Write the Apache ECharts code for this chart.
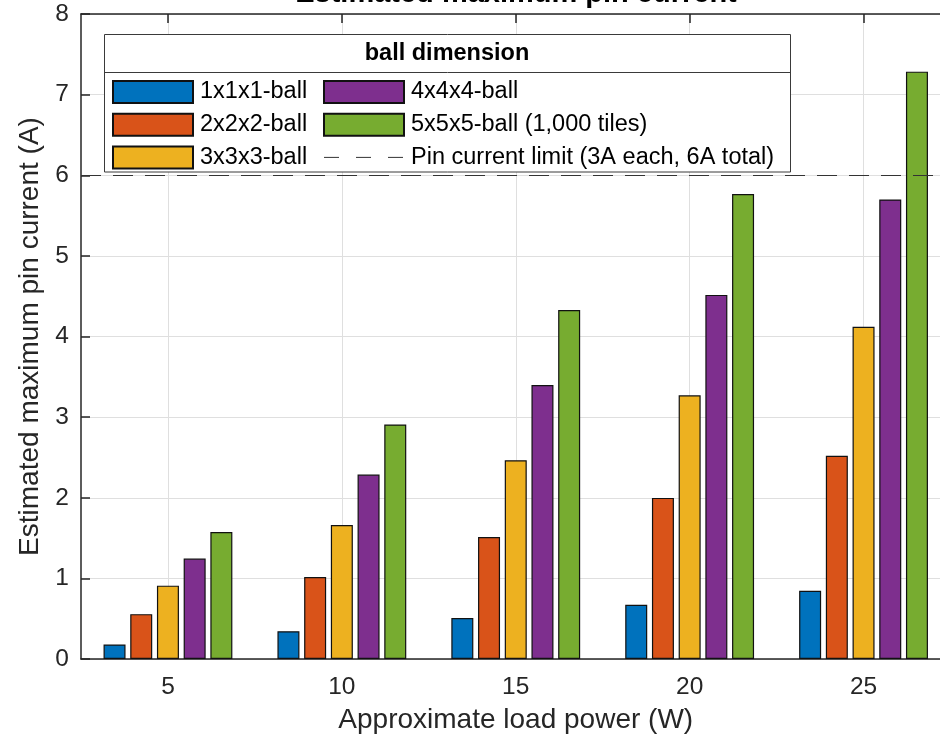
<!DOCTYPE html>
<html><head><meta charset="utf-8">
<script src="https://cdn.jsdelivr.net/npm/echarts@6/dist/echarts.min.js"></script>
<style>html,body{margin:0;padding:0;background:#fff;overflow:hidden}#c{width:940px;height:735px}</style>
</head><body><div id="c"></div>
<script>
const categories = ['5', '10', '15', '20', '25'];
const seriesNames = ['1x1x1-ball', '2x2x2-ball', '3x3x3-ball', '4x4x4-ball', '5x5x5-ball (1,000 tiles)'];
const ball1 = [0.18, 0.345, 0.507, 0.673, 0.847];
const ball2 = [0.556, 1.016, 1.513, 1.998, 2.52];
const ball3 = [0.91, 1.662, 2.466, 3.27, 4.12];
const ball4 = [1.245, 2.288, 3.398, 4.516, 5.70];
const ball5 = [1.575, 2.909, 4.329, 5.767, 7.285];
const pinLimit = 6;
const limitName = 'Pin current limit (3A each, 6A total)';
const yMin = 0, yMax = 8, yStep = 1;
const titleText = 'Estimated maximum pin current';
const legendTitle = 'ball dimension';
const xTitle = 'Approximate load power (W)';
const yTitle = 'Estimated maximum pin current (A)';

const colors = ['#0072BD', '#D95319', '#EDB120', '#7E2F8E', '#77AC30'];
const FONT = '"Liberation Sans", Arial, Helvetica, sans-serif';
const AX = '#262626';
const GRID = '#dfdfdf';
const values = [ball1, ball2, ball3, ball4, ball5];

const chart = echarts.init(document.getElementById('c'), null, {renderer: 'canvas'});

const barSeries = values.map((vals, i) => ({
  name: seriesNames[i],
  type: 'bar',
  data: vals,
  barWidth: 22,
  barGap: '21.4%',
  itemStyle: {color: colors[i], borderColor: '#111', borderWidth: 1.2},
  emphasis: {disabled: true},
  z: 2
}));

const lineSeries = {
  name: limitName,
  type: 'line',
  data: [],
  symbol: 'none',
  itemStyle: {color: 'rgba(0,0,0,0)', borderWidth: 0},
  lineStyle: {color: '#333', width: 1, type: [15, 17]},
  markLine: {
    silent: true,
    symbol: ['none', 'none'],
    label: {show: false},
    lineStyle: {color: '#333', width: 1.2, type: [20, 12]},
    data: [{yAxis: pinLimit}]
  },
  z: 5
};

const legendCommon = {
  orient: 'vertical',
  top: 80,
  padding: 0,
  itemWidth: 80,
  itemHeight: 22,
  itemGap: 8.7,
  selectedMode: false,
  textStyle: {fontFamily: FONT, fontSize: 23.5, color: '#000', lineHeight: 22, padding: [0, 0, 0, 2]},
  z: 6
};

const option = {
  animation: false,
  backgroundColor: '#fff',
  grid: {left: 81, top: 14, width: 869.5, height: 645, containLabel: false, outerBoundsMode: 'none'},
  xAxis: [{
    type: 'category',
    data: categories,
    position: 'bottom',
    axisLine: {show: true, lineStyle: {color: AX, width: 1.5}},
    axisTick: {show: true, inside: true, length: 9, alignWithLabel: true, lineStyle: {color: AX, width: 1.5}},
    axisLabel: {fontFamily: FONT, fontSize: 24.5, color: AX, margin: 16},
    splitLine: {show: true, alignWithLabel: true, lineStyle: {color: GRID, width: 1}},
    name: xTitle,
    nameLocation: 'middle',
    nameGap: 47,
    nameTextStyle: {fontFamily: FONT, fontSize: 28, color: AX}
  }, {
    type: 'category',
    data: categories,
    position: 'top',
    axisLine: {show: true, lineStyle: {color: AX, width: 1.5}},
    axisTick: {show: true, inside: true, length: 9, alignWithLabel: true, lineStyle: {color: AX, width: 1.5}},
    axisLabel: {show: false},
    splitLine: {show: false}
  }],
  yAxis: [{
    type: 'value',
    min: yMin, max: yMax, interval: yStep,
    axisLine: {show: true, lineStyle: {color: AX, width: 1.5}},
    axisTick: {show: true, inside: true, length: 9, lineStyle: {color: AX, width: 1.5}},
    axisLabel: {fontFamily: FONT, fontSize: 24.5, color: AX, margin: 12},
    splitLine: {show: true, lineStyle: {color: GRID, width: 1}},
    name: yTitle,
    nameLocation: 'middle',
    nameGap: 34,
    nameTextStyle: {fontFamily: FONT, fontSize: 28, color: AX}
  }],
  legend: [
    Object.assign({}, legendCommon, {
      left: 112,
      icon: 'rect',
      data: seriesNames.slice(0, 3)
    }),
    Object.assign({}, legendCommon, {
      left: 323,
      data: [
        {name: seriesNames[3], icon: 'rect'},
        {name: seriesNames[4], icon: 'rect'},
        {name: limitName, itemStyle: {opacity: 0}, lineStyle: {color: '#333', width: 1, type: [15, 17]}}
      ]
    })
  ],
  graphic: [
    {type: 'rect', z: 5, shape: {x: 104.5, y: 34.5, width: 686, height: 137.5},
     style: {fill: '#fff', stroke: '#3a3a3a', lineWidth: 1}},
    {type: 'line', z: 5, shape: {x1: 104.5, y1: 72.5, x2: 790.5, y2: 72.5},
     style: {stroke: '#3a3a3a', lineWidth: 1}},
    {type: 'text', z: 6, x: 447, y: 53.5,
     style: {text: legendTitle, fontFamily: FONT, fontSize: 23.5, fontWeight: 'bold', fill: '#000', align: 'center', verticalAlign: 'middle'}},
    {type: 'text', z: 6, x: 516, y: -6,
     style: {text: titleText, fontFamily: FONT, fontSize: 29, fontWeight: 'bold', fill: '#000', align: 'center', verticalAlign: 'middle'}}
  ],
  series: barSeries.concat([lineSeries])
};
chart.setOption(option);
</script></body></html>
